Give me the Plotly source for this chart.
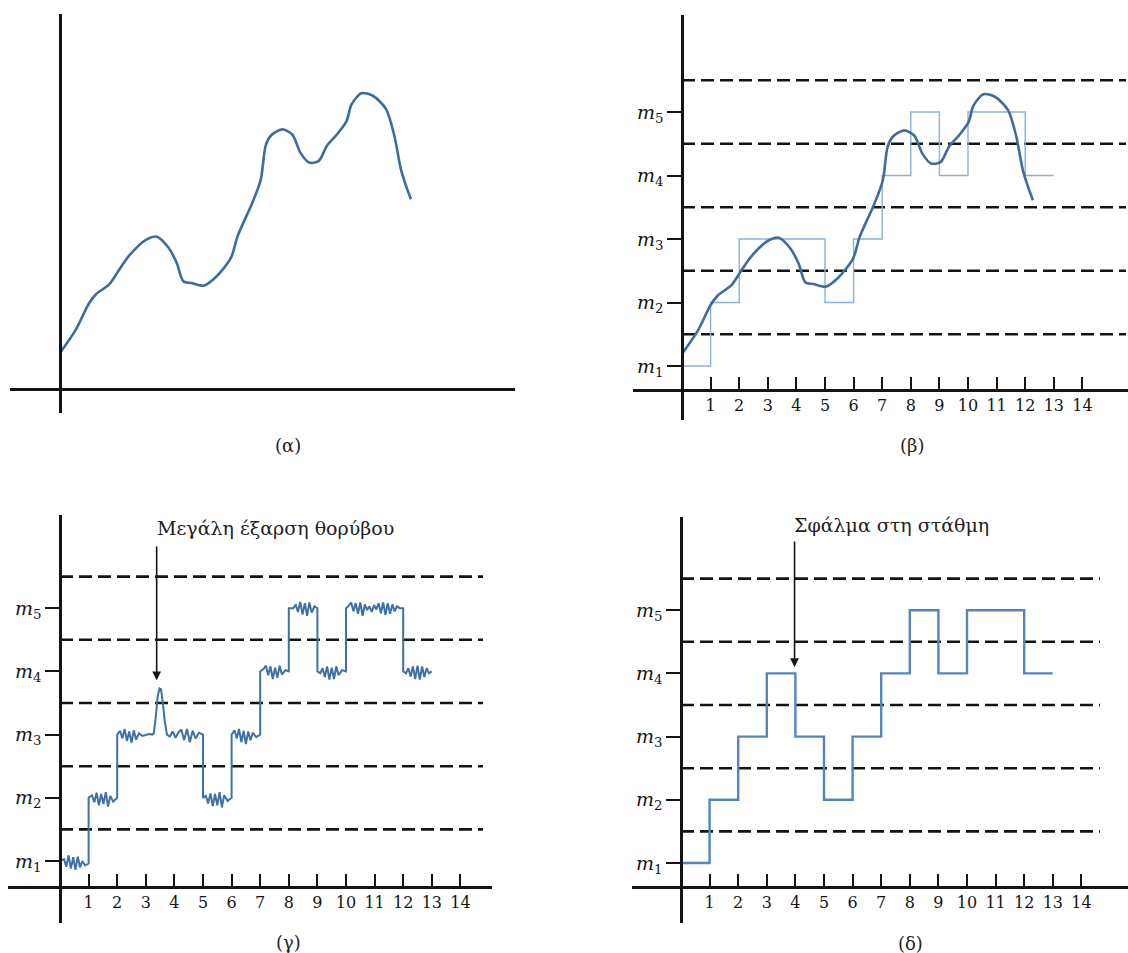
import plotly.graph_objects as go

W, H = 1128, 953

# ---------------- data ----------------
# smooth analogue signal (panels α and β)
curve_t = [0.00, 0.56, 1.00, 1.25, 1.72, 2.04, 2.41, 3.03, 3.39, 3.79, 4.08, 4.31,
           4.60, 5.03, 5.46, 5.98, 6.21, 6.73, 7.02, 7.19, 7.37, 7.77, 8.12, 8.41,
           8.70, 9.04, 9.33, 9.68, 10.02, 10.19, 10.54, 10.94, 11.40, 11.69, 11.92,
           12.10, 12.27]
curve_v = [1.19, 1.56, 1.96, 2.11, 2.27, 2.48, 2.72, 2.98, 3.02, 2.85, 2.61, 2.32,
           2.29, 2.25, 2.39, 2.69, 3.03, 3.56, 3.92, 4.45, 4.61, 4.71, 4.63, 4.34,
           4.19, 4.21, 4.45, 4.63, 4.84, 5.10, 5.28, 5.24, 5.03, 4.61, 4.08,
           3.82, 3.61]

# quantised levels held over each sampling interval (panel β)
beta_t = [0, 1, 2, 5, 6, 7, 8, 9, 10, 12, 13]
beta_v = [1, 2, 3, 2, 3, 4, 5, 4, 5, 4, 4]

# received noisy level signal with one large noise burst (panel γ)
gamma_t = [
    0.00, 0.14, 0.22, 0.30, 0.38, 0.46, 0.54, 0.62, 0.70, 0.78, 0.88, 1.00,
    1.00, 1.12, 1.20, 1.28, 1.36, 1.44, 1.52, 1.60, 1.68, 1.76, 1.86, 2.00,
    2.00, 2.10, 2.18, 2.26, 2.34, 2.42, 2.50, 2.58, 2.66, 2.76, 2.88, 3.00,
    3.12, 3.22, 3.28, 3.35, 3.42, 3.48, 3.53, 3.59, 3.66, 3.74, 3.84, 3.94,
    4.04, 4.14, 4.24, 4.34, 4.44, 4.54, 4.64, 4.74, 4.86, 5.00,
    5.00, 5.10, 5.18, 5.26, 5.34, 5.42, 5.50, 5.58, 5.66, 5.74, 5.86, 6.00,
    6.00, 6.10, 6.18, 6.26, 6.34, 6.42, 6.50, 6.58, 6.66, 6.74, 6.86, 7.00,
    7.00, 7.12, 7.20, 7.28, 7.36, 7.44, 7.52, 7.60, 7.68, 7.76, 7.88, 8.00,
    8.00, 8.16, 8.24, 8.32, 8.40, 8.48, 8.56, 8.64, 8.72, 8.80, 8.90, 9.00,
    9.00, 9.10, 9.18, 9.26, 9.34, 9.42, 9.50, 9.58, 9.66, 9.74, 9.86, 10.00,
    10.00, 10.10, 10.18, 10.26, 10.34, 10.42, 10.50, 10.58, 10.66, 10.74, 10.82,
    10.90, 10.98, 11.06, 11.14, 11.22, 11.30, 11.38, 11.46, 11.54, 11.62, 11.70,
    11.78, 11.88, 12.00,
    12.00, 12.10, 12.18, 12.26, 12.34, 12.42, 12.50, 12.58, 12.66, 12.74, 12.82,
    12.90, 13.00,
]
gamma_v = [
    1.00, 1.03, 0.91, 1.09, 0.88, 1.06, 0.86, 1.07, 0.90, 1.00, 0.93, 0.96,
    2.00, 2.04, 1.93, 2.08, 1.88, 2.06, 1.90, 2.09, 1.86, 2.03, 1.94, 2.00,
    3.00, 3.06, 2.94, 3.09, 2.90, 3.05, 2.87, 3.07, 2.92, 3.02, 2.98, 3.00,
    3.01, 3.00, 3.02, 3.28, 3.62, 3.73, 3.72, 3.52, 3.22, 3.00, 2.97, 3.05,
    2.95, 3.03, 3.08, 2.91, 3.09, 2.88, 3.06, 2.94, 3.03, 3.00,
    2.00, 2.03, 1.91, 2.07, 1.87, 2.06, 1.88, 2.09, 1.85, 2.04, 1.95, 2.00,
    3.00, 3.07, 2.94, 3.09, 2.88, 3.06, 2.85, 3.05, 2.91, 3.03, 2.96, 3.00,
    4.00, 4.04, 4.09, 3.94, 4.08, 3.88, 4.06, 3.90, 4.09, 3.95, 4.02, 4.00,
    5.00, 5.00, 5.06, 4.94, 5.10, 4.90, 5.08, 4.88, 5.09, 4.93, 5.03, 5.00,
    4.00, 3.97, 4.05, 3.91, 4.08, 3.87, 4.06, 3.88, 4.08, 3.94, 4.02, 4.00,
    5.00, 5.04, 5.09, 4.95, 5.08, 4.91, 5.09, 4.88, 5.06, 4.97, 5.03,
    4.94, 5.05, 4.98, 5.08, 4.92, 5.09, 4.89, 5.08, 4.91, 5.06, 4.95,
    5.03, 5.00, 5.00,
    4.00, 3.97, 4.05, 3.92, 4.08, 3.88, 4.09, 3.87, 4.08, 3.91, 4.05,
    3.97, 4.00,
]

# regenerated levels, with the decision error in the 4th interval (panel δ)
delta_t = [0, 1, 2, 3, 4, 5, 6, 7, 8, 9, 10, 12, 13]
delta_v = [1, 2, 3, 4, 3, 2, 3, 4, 5, 4, 5, 4, 4]

# decision thresholds between levels
thresholds = [1.5, 2.5, 3.5, 4.5, 5.5]

level_vals = [1, 2, 3, 4, 5]
level_text = ["<i>m</i><sub>1</sub>", "<i>m</i><sub>2</sub>", "<i>m</i><sub>3</sub>",
              "<i>m</i><sub>4</sub>", "<i>m</i><sub>5</sub>"]
sample_ticks = list(range(1, 15))
captions = ["(α)", "(β)", "(γ)", "(δ)"]

# ---------------- layout geometry (pixels) ----------------
# x0: y-axis position, xl/xr: x-axis extent, xline: x-axis height,
# m1: pixel row of level 1, yt/yb: y-axis extent, dash_end: threshold line end
panels = [
    dict(x0=60, xl=10, xr=515, xline=389, m1=365, yt=14, yb=413, sx=28.6, sy=63.5, dash_end=None),
    dict(x0=682, xl=633, xr=1128, xline=390, m1=366, yt=15, yb=420, sx=28.6, sy=63.5, dash_end=1126),
    dict(x0=60, xl=8, xr=492, xline=887, m1=861, yt=515, yb=923, sx=28.6, sy=63.2, dash_end=483),
    dict(x0=681, xl=632, xr=1128, xline=887, m1=863, yt=517, yb=923, sx=28.6, sy=63.2, dash_end=1100),
]
caption_pos = [(288, 445), (912, 445), (288, 942), (910, 943)]

SERIF = "DejaVu Serif"
INK = "#141414"

fig = go.Figure()
layout = dict(width=W, height=H, margin=dict(l=0, r=0, t=0, b=0),
              paper_bgcolor="white", plot_bgcolor="rgba(0,0,0,0)",
              showlegend=False, annotations=[])

for i, p in enumerate(panels):
    n = "" if i == 0 else str(i + 1)
    xr = [(p["xl"] - p["x0"]) / p["sx"], (p["xr"] - p["x0"]) / p["sx"]]
    yr = [1 - (p["yb"] - p["m1"]) / p["sy"], 1 + (p["m1"] - p["yt"]) / p["sy"]]
    has_ticks = i > 0
    layout["xaxis" + n] = dict(
        domain=[p["xl"] / W, p["xr"] / W], range=xr, anchor="free",
        position=(H - p["xline"]) / H, showline=True, linecolor=INK, linewidth=2.5,
        showgrid=False, zeroline=False, fixedrange=True,
        ticks="inside" if has_ticks else "", ticklen=12, tickwidth=2, tickcolor=INK,
        tickvals=sample_ticks if has_ticks else [], showticklabels=has_ticks,
        tickfont=dict(family=SERIF, size=16, color=INK),
    )
    layout["yaxis" + n] = dict(
        domain=[(H - p["yb"]) / H, (H - p["yt"]) / H], range=yr, anchor="free",
        position=p["x0"] / W, showline=True, linecolor=INK, linewidth=2.5,
        showgrid=False, zeroline=False, fixedrange=True,
        ticks="outside" if has_ticks else "", ticklen=14, tickwidth=2, tickcolor=INK,
        tickvals=level_vals if has_ticks else [], ticktext=level_text if has_ticks else [],
        showticklabels=has_ticks, tickfont=dict(family=SERIF, size=19, color=INK),
    )
    xa, ya = "x" + n, "y" + n

    if p["dash_end"] is not None:
        tend = (p["dash_end"] - p["x0"]) / p["sx"]
        dx, dy = [], []
        for lv in thresholds:
            dx += [0, tend, None]
            dy += [lv, lv, None]
        fig.add_trace(go.Scatter(x=dx, y=dy, mode="lines", xaxis=xa, yaxis=ya,
                                 line=dict(color=INK, width=2.6, dash="13px,6px"),
                                 hoverinfo="skip"))

    layout["annotations"].append(dict(
        xref="paper", yref="paper", x=caption_pos[i][0] / W, y=(H - caption_pos[i][1]) / H,
        text=captions[i], showarrow=False, xanchor="center", yanchor="middle",
        font=dict(family=SERIF, size=18, color="#2a1f1f")))

# panel α: analogue signal
fig.add_trace(go.Scatter(x=curve_t, y=curve_v, mode="lines", xaxis="x", yaxis="y",
                         line=dict(color="#3d6d9f", width=2.6, shape="spline", smoothing=0.8)))
# panel β: held samples and analogue signal
fig.add_trace(go.Scatter(x=beta_t, y=beta_v, mode="lines", xaxis="x2", yaxis="y2",
                         line=dict(color="#8cb2d8", width=1.4, shape="hv")))
fig.add_trace(go.Scatter(x=curve_t, y=curve_v, mode="lines", xaxis="x2", yaxis="y2",
                         line=dict(color="#3d6d9f", width=2.6, shape="spline", smoothing=0.8)))
# panel γ: noisy received signal
fig.add_trace(go.Scatter(x=gamma_t, y=gamma_v, mode="lines", xaxis="x3", yaxis="y3",
                         line=dict(color="#3f70a6", width=2.0)))
# panel δ: regenerated signal
fig.add_trace(go.Scatter(x=delta_t, y=delta_v, mode="lines", xaxis="x4", yaxis="y4",
                         line=dict(color="#5585bd", width=2.4, shape="hv")))

# labelled arrows
arrows = [
    dict(ax="x3", ay="y3", tip=(3.38, 3.86), tail=6.0, label=(3.33, 6.27),
         text="Μεγάλη έξαρση θορύβου"),
    dict(ax="x4", ay="y4", tip=(3.97, 4.10), tail=6.11, label=(3.88, 6.35),
         text="Σφάλμα στη στάθμη"),
]
for a in arrows:
    layout["annotations"].append(dict(
        xref=a["ax"], yref=a["ay"], x=a["tip"][0], y=a["tip"][1],
        axref=a["ax"], ayref=a["ay"], ax=a["tip"][0], ay=a["tail"],
        text="", showarrow=True, arrowhead=2, arrowsize=1.1, arrowwidth=1.6,
        arrowcolor=INK, standoff=0, startstandoff=0))
    layout["annotations"].append(dict(
        xref=a["ax"], yref=a["ay"], x=a["label"][0], y=a["label"][1],
        text=a["text"], showarrow=False, xanchor="left", yanchor="middle",
        font=dict(family=SERIF, size=19, color="#222")))

fig.update_layout(**layout)
fig.write_html("out.html")
